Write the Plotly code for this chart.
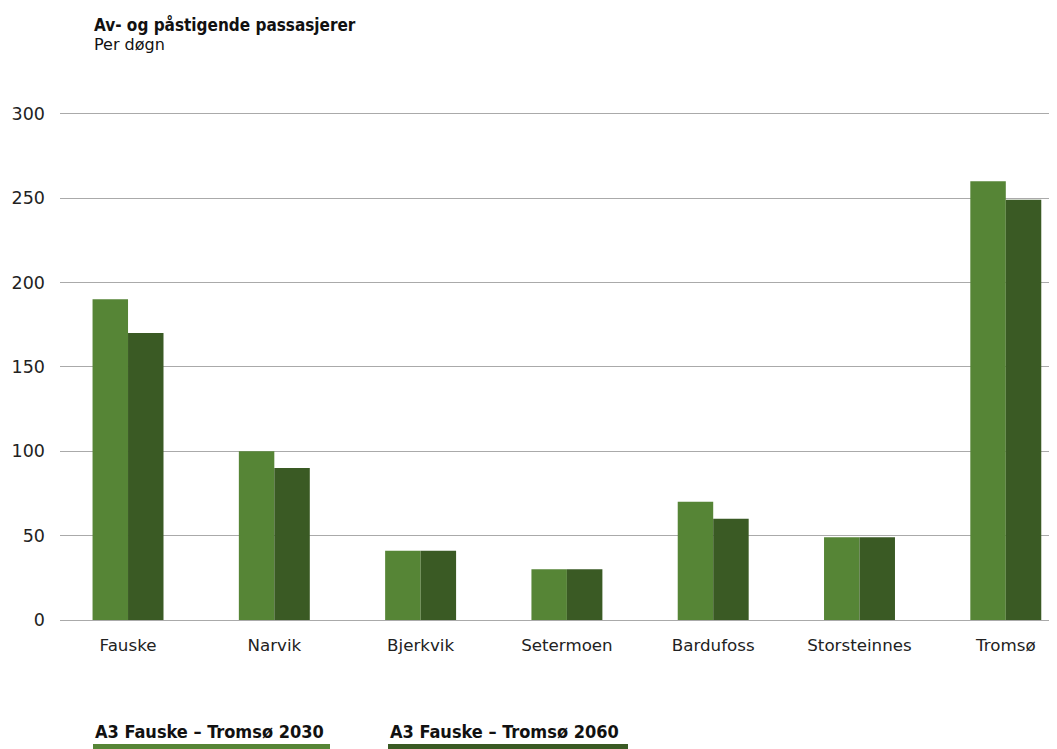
import plotly.graph_objects as go

categories = ["Fauske", "Narvik", "Bjerkvik", "Setermoen", "Bardufoss", "Storsteinnes", "Tromsø"]
series_2030 = [190, 100, 41, 30, 70, 49, 260]
series_2060 = [170, 90, 41, 30, 60, 49, 249]
series_names = ["A3 Fauske – Tromsø 2030", "A3 Fauske – Tromsø 2060"]
y_ticks = [0, 50, 100, 150, 200, 250, 300]

c2030 = "#568536"
c2060 = "#3a5a24"

# page body adds an 8px offset; work in reference pixel coordinates minus OFF
OFF = 8
W, H = 1057 - OFF, 749 - OFF
ml, mr, mt, mb = 60 - OFF, 0, 112 - OFF, 129

fig = go.Figure()
fig.add_trace(go.Bar(x=categories, y=series_2030, name=series_names[0], marker_color=c2030, marker_line_width=0))
fig.add_trace(go.Bar(x=categories, y=series_2060, name=series_names[1], marker_color=c2060, marker_line_width=0))

pw = W - ml - mr
ph = H - mt - mb

def px(x):
    return (x - OFF - ml) / pw

def py(y):
    return (H - mb - (y - OFF)) / ph

fig.update_layout(
    width=W, height=H,
    margin=dict(l=ml, r=mr, t=mt, b=mb, pad=0),
    paper_bgcolor="white", plot_bgcolor="white",
    barmode="group", bargap=0.515, bargroupgap=0,
    showlegend=False,
    font=dict(family="DejaVu Sans, sans-serif", size=16, color="#222"),
    xaxis=dict(range=[-0.465, 6.35], showgrid=False, showline=False, ticks="",
               ticklabelstandoff=13, tickfont=dict(size=16.7, color="#222")),
    yaxis=dict(range=[0, 301], tickvals=y_ticks, showgrid=True, gridcolor="#aaaaaa", gridwidth=1,
               zeroline=True, zerolinecolor="#aaaaaa", zerolinewidth=1, showline=False,
               ticks="", ticklabelstandoff=14, tickfont=dict(size=17.5, color="#222")),
)

title_font = "DejaVu Sans Condensed, Liberation Sans Narrow, DejaVu Sans, sans-serif"
annotations = [
    dict(text="<b>Av- og påstigende passasjerer</b>", x=px(92), y=py(12), xanchor="left", yanchor="top",
         font=dict(family=title_font, size=17, color="#111")),
    dict(text="Per døgn", x=px(92), y=py(33), xanchor="left", yanchor="top",
         font=dict(family="DejaVu Sans, sans-serif", size=16, color="#111")),
    dict(text="<b>" + series_names[0] + "</b>", x=px(93), y=py(719), xanchor="left", yanchor="top",
         font=dict(family=title_font, size=18, color="#111")),
    dict(text="<b>" + series_names[1] + "</b>", x=px(388), y=py(719), xanchor="left", yanchor="top",
         font=dict(family=title_font, size=18, color="#111")),
]
for a in annotations:
    a.update(xref="paper", yref="paper", showarrow=False)
fig.update_layout(annotations=annotations)

fig.add_shape(type="rect", xref="paper", yref="paper", x0=px(93), x1=px(330), y0=py(749), y1=py(744),
              fillcolor=c2030, line_width=0)
fig.add_shape(type="rect", xref="paper", yref="paper", x0=px(388), x1=px(628), y0=py(749), y1=py(744),
              fillcolor=c2060, line_width=0)

fig.write_html("out.html")
